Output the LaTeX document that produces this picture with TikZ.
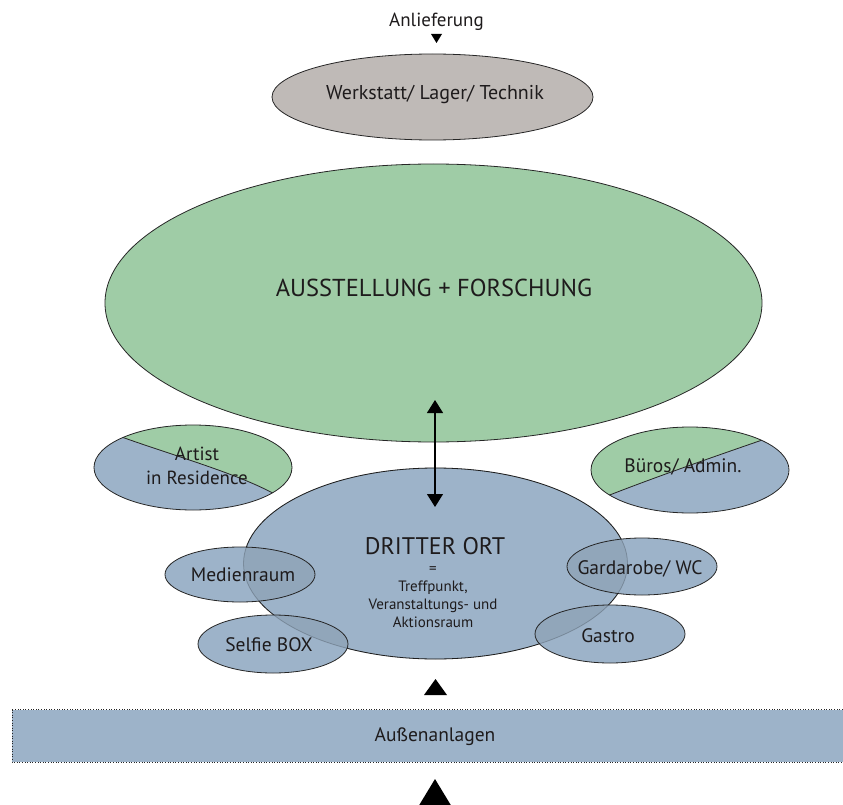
\documentclass[tikz,border=0pt]{standalone}
\usepackage{fontspec}
\setmainfont{PT Sans}
\usepackage{tikz}
\usetikzlibrary{arrows.meta}

\definecolor{gruen}{HTML}{9FCCA6}
\definecolor{blau}{HTML}{9DB3C9}
\definecolor{grau}{HTML}{BFBAB7}
\definecolor{schrift}{HTML}{1E1B1C}

\newcommand{\fs}[1]{\fontsize{#1}{1.2\dimexpr #1pt\relax}\selectfont}

\begin{document}
\begin{tikzpicture}[x=1pt,y=-1pt]
			\tikzstyle{every node}=[font=\fs{19.5}, text=schrift, inner sep=0pt]
			\tikzstyle{linie}=[draw=black!85, line width=0.8pt]
			\tikzstyle{klein}=[linie, fill=blau]
			
			\useasboundingbox (0,0) rectangle (843,805);
			
			% Mittelpunkte
			\coordinate (werk) at (432.5,97);
			\coordinate (ausst) at (433.5,303);
			\coordinate (artist) at (193,467.5);
			\coordinate (bueros) at (690,470);
			\coordinate (dritter) at (435.5,563.5);
			\coordinate (medien) at (240,574.5);
			\coordinate (selfie) at (273,644);
			\coordinate (garda) at (642,566.5);
			\coordinate (gastro) at (610,634);
			
			% Anlieferung
			\node[font=\fs{19}] (anlText) at (436.5,22) {Anlieferung};
			\fill[black] (431,34) -- (442,34) -- (436.5,43) -- cycle;
			
			\draw[linie, fill=grau] (werk) ellipse [x radius=160.5pt, y radius=43pt];
			\node[font=\fs{20}] (werkText) at (435,95) {Werkstatt/ Lager/ Technik};
			
			\draw[linie, fill=gruen] (ausst) ellipse [x radius=328.5pt, y radius=139pt];
			\node[font=\fs{24.5}] (ausstText) at (434,288) {AUSSTELLUNG + FORSCHUNG};
			
			% Artist in Residence
			\begin{scope}
			\clip (artist) ellipse [x radius=99pt, y radius=42.5pt];
			\fill[blau] (artist) ellipse [x radius=99pt, y radius=42.5pt];
			\fill[gruen] (116,435) .. controls (180,458) and (240,474) .. (280,497) -- (300,497) -- (300,420) -- (80,420) -- (80,435) -- cycle;
			\draw[linie] (116,435) .. controls (180,458) and (240,474) .. (280,497);
			\end{scope}
			\draw[linie] (artist) ellipse [x radius=99pt, y radius=42.5pt];
			\node[font=\fs{19}, align=center] (artistText) at (197,466) {Artist\\[1.5pt]in Residence};
			
			% Bueros
			\begin{scope}
			\clip (bueros) ellipse [x radius=99pt, y radius=43pt];
			\fill[blau] (bueros) ellipse [x radius=99pt, y radius=43pt];
			\fill[gruen] (602,498) .. controls (650,479) and (710,458) .. (768,438) -- (800,420) -- (580,420) -- (580,498) -- cycle;
			\draw[linie] (602,498) .. controls (650,479) and (710,458) .. (768,438);
			\end{scope}
			\draw[linie] (bueros) ellipse [x radius=99pt, y radius=43pt];
			\node (buerosText) at (683,467) {Büros/ Admin.};
			
			% Dritter Ort
			\draw[klein] (dritter) ellipse [x radius=192pt, y radius=95.5pt];
			
			\draw[klein] (medien) ellipse [x radius=75pt, y radius=27.5pt];
			\draw[klein] (selfie) ellipse [x radius=75pt, y radius=29pt];
			\draw[klein] (garda) ellipse [x radius=75pt, y radius=28.5pt];
			\draw[klein] (gastro) ellipse [x radius=75pt, y radius=29pt];
			
			\begin{scope}
			\clip (dritter) ellipse [x radius=192pt, y radius=95.5pt];
			\fill[black, opacity=0.07] (medien) ellipse [x radius=75pt, y radius=27.5pt];
			\fill[black, opacity=0.07] (selfie) ellipse [x radius=75pt, y radius=29pt];
			\fill[black, opacity=0.07] (garda) ellipse [x radius=75pt, y radius=28.5pt];
			\fill[black, opacity=0.07] (gastro) ellipse [x radius=75pt, y radius=29pt];
			\end{scope}
			\draw[black, opacity=0.2, line width=0.8pt] (dritter) ellipse [x radius=192pt, y radius=95.5pt];
			
			\node[font=\fs{24}] (dritterText) at (435,546) {DRITTER ORT};
			\node[font=\fs{15}, align=center] (dritterSub) at (433,597) {=\\Treffpunkt,\\Veranstaltungs- und\\Aktionsraum};
			
			\node (medienText) at (243,575) {Medienraum};
			\node (selfieText) at (269,645) {Selfie BOX};
			\node (gardaText) at (640,569) {Gardarobe/ WC};
			\node (gastroText) at (608,636) {Gastro};
			
			% Verbindung
			\coordinate (pfeilOben) at (435,400);
			\coordinate (pfeilUnten) at (435,507);
			\draw[line width=1.1pt, {Triangle[length=13pt,width=16pt]}-{Triangle[length=13pt,width=16pt]}] (pfeilUnten) -- (pfeilOben);
			
			% Aussenanlagen
			\fill[black] (424,695) -- (447,695) -- (435.5,679) -- cycle;
			\draw[fill=blau, draw=black!85, line width=0.9pt, dash pattern=on 1pt off 1.6pt] (12,709.5) rectangle (852,762);
			\node (aussenText) at (435,737) {Außenanlagen};
			\fill[black] (415,812) -- (455,812) -- (435,779) -- cycle;
			
\end{tikzpicture}
\end{document}
